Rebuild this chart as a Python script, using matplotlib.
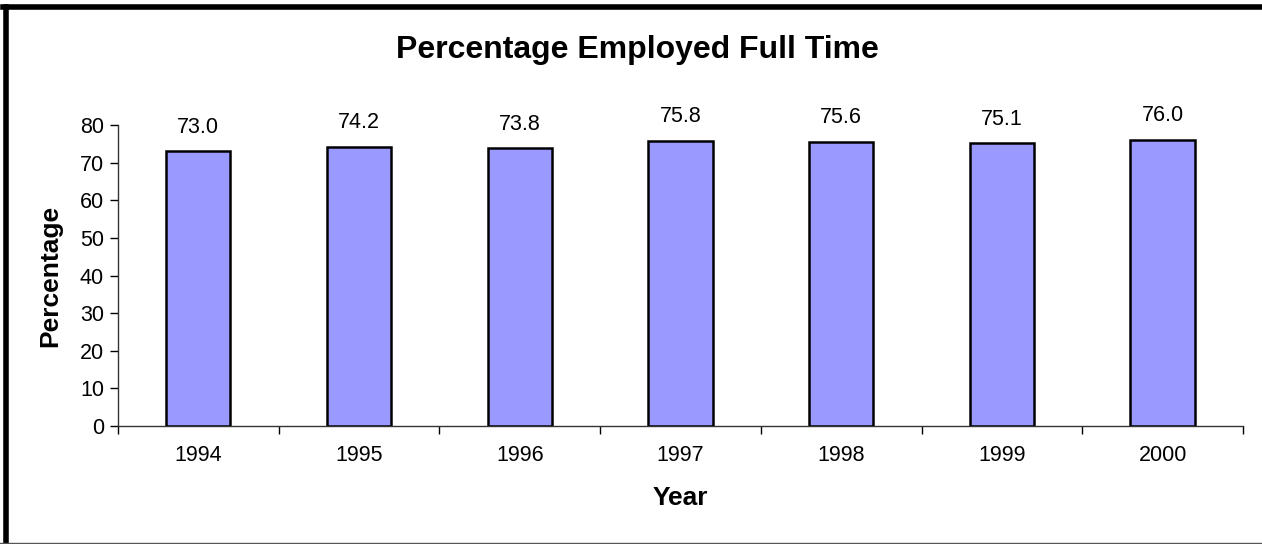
import matplotlib.pyplot as plt
from matplotlib.lines import Line2D
import numpy as np

plt.rcParams['font.family'] = ['Liberation Sans', 'DejaVu Sans']

years = ['1994', '1995', '1996', '1997', '1998', '1999', '2000']
pct_full_time = [73.0, 74.2, 73.8, 75.8, 75.6, 75.1, 76.0]

fig = plt.figure(figsize=(12.62, 5.44), dpi=100)
ax = fig.add_axes([118/1262, 1 - 426/544, (1243 - 118)/1262, (426 - 125)/544])

x = np.arange(len(years))
bars = ax.bar(x, pct_full_time, width=0.4, color='#9999FF', edgecolor='black', linewidth=1.8)

for xi, v in zip(x, pct_full_time):
    ax.annotate(f'{v:.1f}', (xi, v), xytext=(0, 13.5), textcoords='offset points',
                ha='center', va='baseline', fontsize=15.5)

ax.set_xlim(-0.5, len(years) - 0.5)
ax.set_ylim(0, 80)
ax.set_yticks(range(0, 81, 10))
ax.tick_params(axis='y', labelsize=15.5, length=6, width=1, direction='out', pad=4)

# category labels in the middle, tick marks between categories
ax.set_xticks(np.arange(-0.5, len(years), 1))
ax.set_xticklabels([])
ax.set_xticks(x, minor=True)
ax.set_xticklabels(years, minor=True)
ax.tick_params(axis='x', which='major', length=6, width=1, direction='out')
ax.tick_params(axis='x', which='minor', length=0, labelsize=15.5, pad=14)

for s in ['top', 'right']:
    ax.spines[s].set_visible(False)
for s in ['left', 'bottom']:
    ax.spines[s].set_linewidth(1)
    ax.spines[s].set_color('#333333')

ax.set_xlabel('Year', fontsize=19, fontweight='bold')
ax.set_ylabel('Percentage', fontsize=19, fontweight='bold')
ax.xaxis.set_label_coords((680 - 118) / (1243 - 118), -(498 - 426) / (426 - 125))
ax.yaxis.set_label_coords(-(118 - 50) / (1243 - 118), 0.5)
ax.xaxis.label.set_va('center')
ax.yaxis.label.set_va('center')
fig.text(637/1262, 1 - 50/544, 'Percentage Employed Full Time', ha='center', va='center',
         fontsize=23, fontweight='bold')

# chart area border
fig.add_artist(Line2D([5.5/1262, 5.5/1262], [0, 1 - 6.5/544], color='black', linewidth=4))
fig.add_artist(Line2D([3/1262, 1], [1 - 6.5/544, 1 - 6.5/544], color='black', linewidth=4))
fig.add_artist(Line2D([0, 1], [0.8/544, 0.8/544], color='#555555', linewidth=1))

fig.savefig('out.png', dpi=100)
